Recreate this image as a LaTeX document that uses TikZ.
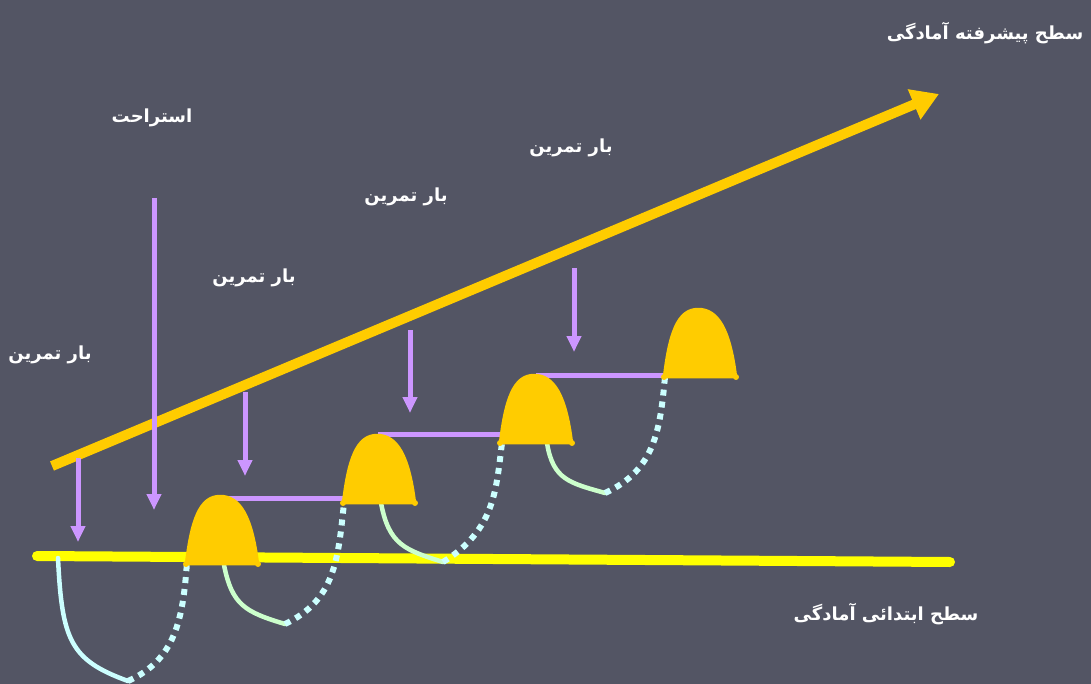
\documentclass[tikz,border=0pt]{standalone}
\usepackage{fontspec}
\TeXXeTstate=1
\newfontfamily\fa[Script=Arabic]{DejaVu Sans}
\usetikzlibrary{arrows.meta}
\definecolor{bg}{RGB}{83,85,100}
\definecolor{gold}{RGB}{255,204,0}
\definecolor{yel}{RGB}{255,255,0}
\definecolor{purp}{RGB}{204,150,255}
\definecolor{cyanl}{RGB}{204,255,255}
\definecolor{greenl}{RGB}{204,255,204}
\tikzset{
  lbl/.style={text=white, font=\fa\bfseries\fontsize{18}{21}\selectfont, inner sep=0pt},
  load/.style={draw=purp, line width=5pt, -{Triangle[length=16pt,width=14pt]}},
  stepline/.style={draw=purp, line width=5pt},
  fall/.style={draw=greenl, line width=4.5pt, line cap=round},
  firstfall/.style={draw=cyanl, line width=4.5pt, line cap=round},
  rise/.style={draw=cyanl, line width=6pt, dash pattern=on 6pt off 6pt},
  bellshape/.pic={
    \filldraw[gold, line width=2.5pt, line join=round]
      (0,0) .. controls (5,-42) and (13,-68) .. (34,-68)
      .. controls (54,-68) and (66,-48) .. (72,0) -- cycle;
    \fill[gold] (0,0) circle (3) (72,0) circle (3);
  }
}
\begin{document}
\begin{tikzpicture}[x=1pt,y=-1pt]
\fill[bg] (0,0) rectangle (1091,684);
\useasboundingbox (0,0) rectangle (1091,684);

% levels
\coordinate (base0) at (37,556);
\coordinate (base1) at (950,562);
\draw[yel, line width=10pt, line cap=round] (base0) -- (base1);
\coordinate (adv0) at (52,466);
\coordinate (adv1) at (939,94);
\draw[gold, line width=10pt, -{Triangle[length=27pt,width=31pt]}] (adv0) -- (adv1);

% curves
\coordinate (c0) at (58,558);
\coordinate (m1) at (128,681);
\coordinate (m2) at (285,624);
\coordinate (m3) at (443,562);
\coordinate (m4) at (605,493);
\coordinate (b1l) at (187,562);
\coordinate (b1c) at (224,565);
\coordinate (b2l) at (344,503);
\coordinate (b2c) at (381,503);
\coordinate (b3l) at (502,443);
\coordinate (b3c) at (547,443);
\coordinate (b4l) at (665,377);

\draw[firstfall] (c0) .. controls (62,640) and (70,660) .. (m1);
\draw[rise] (m1) .. controls (175,660) and (183,620) .. (b1l);
\draw[fall] (b1c) .. controls (232,605) and (245,612) .. (m2);
\draw[rise] (m2) .. controls (335,600) and (338,560) .. (b2l);
\draw[fall] (b2c) .. controls (389,545) and (405,550) .. (m3);
\draw[rise] (m3) .. controls (495,530) and (496,490) .. (b3l);
\draw[fall] (b3c) .. controls (553,480) and (570,483) .. (m4);
\draw[rise] (m4) .. controls (655,470) and (660,430) .. (b4l);

% steps
\coordinate (s1a) at (220,498); \coordinate (s1b) at (345,498);
\coordinate (s2a) at (378,434); \coordinate (s2b) at (502,434);
\coordinate (s3a) at (536,375); \coordinate (s3b) at (665,375);
\draw[stepline] (s1a) -- (s1b);
\draw[stepline] (s2a) -- (s2b);
\draw[stepline] (s3a) -- (s3b);

% bells
\pic at (186,564) {bellshape};
\pic at (343,503) {bellshape};
\pic at (500,443) {bellshape};
\pic at (664,377) {bellshape};

% load arrows
\coordinate (p1a) at (78,458);  \coordinate (p1b) at (78,542);
\coordinate (p2a) at (154,198); \coordinate (p2b) at (154,510);
\coordinate (p3a) at (245,392); \coordinate (p3b) at (245,476);
\coordinate (p4a) at (410,330); \coordinate (p4b) at (410,413);
\coordinate (p5a) at (574,268); \coordinate (p5b) at (574,352);
\draw[load] (p1a) -- (p1b);
\draw[load] (p2a) -- (p2b);
\draw[load] (p3a) -- (p3b);
\draw[load] (p4a) -- (p4b);
\draw[load] (p5a) -- (p5b);

% labels
\node[lbl] (adv) at (985,33) {\beginR سطح پیشرفته آمادگی\endR};
\node[lbl] (rest) at (152,118) {\beginR استراحت\endR};
\node[lbl] (l4) at (571,148) {\beginR بار تمرین\endR};
\node[lbl] (l3) at (406,197) {\beginR بار تمرین\endR};
\node[lbl] (l2) at (254,278) {\beginR بار تمرین\endR};
\node[lbl] (l1) at (50,355) {\beginR بار تمرین\endR};
\node[lbl] (basic) at (886,614) {\beginR سطح ابتدائی آمادگی\endR};
\end{tikzpicture}
\end{document}
